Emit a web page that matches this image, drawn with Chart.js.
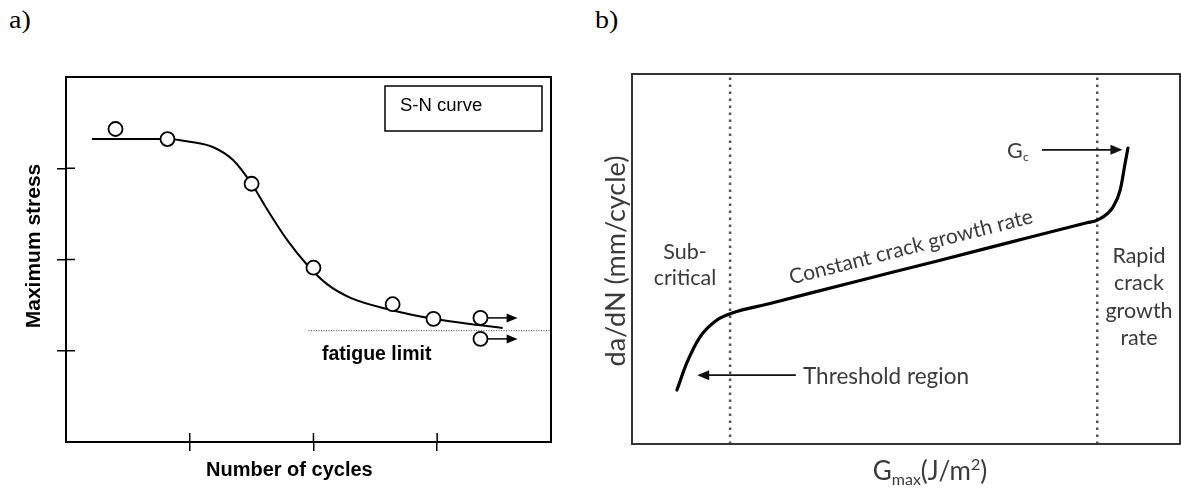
<!DOCTYPE html>
<html><head><meta charset="utf-8">
<script src="https://cdn.jsdelivr.net/npm/chart.js@4.4.1/dist/chart.umd.min.js"></script>
<style>
html,body{margin:0;padding:0;background:#fff;}
#wrap{position:relative;width:1181px;height:488px;overflow:hidden;background:#fff;}
.lbl{position:absolute;font-family:"Liberation Serif","Times New Roman",serif;font-size:25px;color:#000;line-height:25px;transform-origin:0 0;transform:scaleX(1.12);}
#ca{position:absolute;left:0;top:0;}
#cb{position:absolute;left:590px;top:0;}
</style></head><body>
<div id="wrap">
<div class="lbl" style="left:9px;top:7px">a)</div>
<div class="lbl" style="left:595px;top:7px">b)</div>
<canvas id="ca" width="590" height="488"></canvas>
<canvas id="cb" width="591" height="488"></canvas>
</div>
<script>
// ---------- Panel a : S-N curve ----------
const snCurveX = [0.21, 0.60, 0.82, 1.00, 1.19, 1.35, 1.50, 1.63, 1.79, 1.95, 2.11, 2.30, 2.62, 2.97, 3.35, 3.53];
const snCurveY = [3.32, 3.32, 3.32, 3.29, 3.23, 3.09, 2.83, 2.54, 2.21, 1.94, 1.73, 1.58, 1.45, 1.35, 1.28, 1.25];
const snPointX = [0.40, 0.82, 1.50, 2.00, 2.64, 2.97, 3.35, 3.35];
const snPointY = [3.43, 3.32, 2.83, 1.91, 1.51, 1.35, 1.36, 1.13];
const runoutY = [1.36, 1.13];
const runoutX = [3.41, 3.65];
const fatigueLimitX = [1.96, 3.92];
const fatigueLimitY = 1.22;
const tickValuesA = [1, 2, 3];

// ---------- Panel b : crack growth ----------
const crackX = [8.2, 10.0, 12.4, 15.5, 18.3, 25.0, 40.0, 55.0, 70.0, 83.0, 84.9, 87.8, 89.1, 90.0, 90.5];
const crackY = [14.6, 21.9, 28.9, 33.5, 35.4, 37.9, 43.6, 49.2, 54.9, 59.8, 60.5, 64.1, 68.7, 76.0, 80.0];
const regionBoundsX = [17.9, 84.9];
const thresholdArrowX = [29.9, 11.9];
const thresholdArrowY = 18.6;
const gcArrowX = [74.8, 89.5];
const gcArrowY = 79.5;

function arrowHead(ctx, x, y, dir, len, half) {
  ctx.beginPath();
  ctx.moveTo(x, y);
  ctx.lineTo(x - dir * len, y - half);
  ctx.lineTo(x - dir * len, y + half);
  ctx.closePath();
  ctx.fill();
}

const panelAPlugin = {
  id: 'panelA',
  afterDraw(chart) {
    const {ctx, chartArea: ca, scales: {x, y}} = chart;
    ctx.save();
    ctx.strokeStyle = '#000'; ctx.lineWidth = 2;
    ctx.strokeRect(ca.left, ca.top, ca.right - ca.left, ca.bottom - ca.top);
    ctx.lineWidth = 1.5;
    tickValuesA.forEach(v => {
      const px = x.getPixelForValue(v);
      ctx.beginPath(); ctx.moveTo(px, ca.bottom); ctx.lineTo(px, ca.bottom - 9); ctx.stroke();
      const py = y.getPixelForValue(v);
      ctx.beginPath(); ctx.moveTo(ca.left, py); ctx.lineTo(ca.left + 9, py); ctx.stroke();
    });
    ctx.fillStyle = '#000'; ctx.lineWidth = 1.5;
    runoutY.forEach(v => {
      const py = y.getPixelForValue(v);
      const x0 = x.getPixelForValue(runoutX[0]), x1 = x.getPixelForValue(runoutX[1]);
      ctx.beginPath(); ctx.moveTo(x0, py); ctx.lineTo(x1 - 6, py); ctx.stroke();
      arrowHead(ctx, x1, py, 1, 11, 4.5);
    });
    ctx.lineWidth = 1.5;
    ctx.strokeRect(385, 86, 157, 45);
    ctx.font = '18.5px "Liberation Sans", Arial, sans-serif';
    ctx.textBaseline = 'middle'; ctx.textAlign = 'left';
    ctx.fillText('S-N curve', 400, 106);
    ctx.font = 'bold 19.5px "Liberation Sans", Arial, sans-serif';
    ctx.textBaseline = 'alphabetic';
    ctx.fillText('fatigue limit', 322, 360);
    ctx.font = 'bold 20px "Liberation Sans", Arial, sans-serif';
    ctx.fillText('Number of cycles', 206, 476);
    ctx.save();
    ctx.translate(40, 246); ctx.rotate(-Math.PI / 2);
    ctx.textAlign = 'center';
    ctx.font = 'bold 21px "Liberation Sans", Arial, sans-serif';
    ctx.fillText('Maximum stress', 0, 0);
    ctx.restore();
    ctx.restore();
  }
};

new Chart(document.getElementById('ca'), {
  type: 'line',
  data: {
    datasets: [
      {
        label: 'S-N curve',
        data: snCurveX.map((v, i) => ({x: v, y: snCurveY[i]})),
        borderColor: '#000', borderWidth: 2, pointRadius: 0,
        cubicInterpolationMode: 'monotone', fill: false, order: 2
      },
      {
        label: 'fatigue limit',
        data: fatigueLimitX.map(v => ({x: v, y: fatigueLimitY})),
        borderColor: '#444', borderWidth: 1, borderDash: [1, 1.5],
        pointRadius: 0, fill: false, order: 3
      },
      {
        label: 'tests',
        data: snPointX.map((v, i) => ({x: v, y: snPointY[i]})),
        showLine: false, pointRadius: 7, pointStyle: 'circle',
        pointBackgroundColor: '#fff', pointBorderColor: '#000', pointBorderWidth: 1.8,
        order: 1
      }
    ]
  },
  options: {
    responsive: false, animation: false, events: [],
    layout: {padding: {left: 0, right: 39, top: 77, bottom: 0}},
    plugins: {legend: {display: false}, tooltip: {enabled: false}},
    scales: {
      x: {
        type: 'linear', min: 0, max: 3.92,
        afterBuildTicks: s => { s.ticks = tickValuesA.map(v => ({value: v})); },
        afterFit: s => { s.height = 46; },
        ticks: {display: false},
        grid: {drawOnChartArea: false, drawTicks: true, tickLength: 9, color: '#000', lineWidth: 1.5},
        border: {display: true, color: '#000', width: 2}
      },
      y: {
        type: 'linear', min: 0, max: 4,
        afterBuildTicks: s => { s.ticks = tickValuesA.map(v => ({value: v})); },
        afterFit: s => { s.width = 66; },
        ticks: {display: false},
        grid: {drawOnChartArea: false, drawTicks: true, tickLength: 9, color: '#000', lineWidth: 1.5},
        border: {display: true, color: '#000', width: 2}
      }
    }
  },
  plugins: [panelAPlugin]
});

// ---------- Panel b ----------
const TXT = '#3a3a3a';
const FONT_B = '"Lato", "Open Sans", sans-serif';
const panelBPlugin = {
  id: 'panelB',
  afterDraw(chart) {
    const {ctx, chartArea: ca, scales: {x, y}} = chart;
    ctx.save();
    ctx.strokeStyle = '#333'; ctx.lineWidth = 2;
    ctx.strokeRect(ca.left, ca.top, ca.right - ca.left, ca.bottom - ca.top);
    ctx.fillStyle = TXT;
    ctx.font = '21.5px ' + FONT_B;
    ctx.textAlign = 'center'; ctx.textBaseline = 'middle';
    ctx.fillText('Sub-', 95, 252);
    ctx.fillText('critical', 95, 278);
    ['Rapid', 'crack', 'growth', 'rate'].forEach((t, i) => ctx.fillText(t, 549, 256 + i * 27.3));
    ctx.textAlign = 'left';
    ctx.font = '22.5px ' + FONT_B;
    ctx.fillText('Threshold region', 213, 377);
    ctx.font = '21px ' + FONT_B;
    const x0 = x.getPixelForValue(crackX[4]), y0 = y.getPixelForValue(crackY[4]);
    const x1 = x.getPixelForValue(crackX[10]), y1 = y.getPixelForValue(crackY[10]);
    const ang = Math.atan2(y1 - y0, x1 - x0);
    ctx.save();
    ctx.translate(321, 247); ctx.rotate(ang);
    ctx.textAlign = 'center';
    ctx.fillText('Constant crack growth rate', 0, 0);
    ctx.restore();
    ctx.font = '21.5px ' + FONT_B;
    ctx.textAlign = 'left';
    ctx.fillText('G', 417, 151);
    ctx.font = '12px ' + FONT_B;
    ctx.fillText('c', 433, 157);
    ctx.fillStyle = '#111'; ctx.strokeStyle = '#111'; ctx.lineWidth = 1.8;
    const ty = y.getPixelForValue(thresholdArrowY);
    const ta = x.getPixelForValue(thresholdArrowX[0]), tb = x.getPixelForValue(thresholdArrowX[1]);
    ctx.beginPath(); ctx.moveTo(ta, ty); ctx.lineTo(tb + 6, ty); ctx.stroke();
    arrowHead(ctx, tb, ty, -1, 12, 5);
    const gy = y.getPixelForValue(gcArrowY);
    const ga = x.getPixelForValue(gcArrowX[0]), gb = x.getPixelForValue(gcArrowX[1]);
    ctx.beginPath(); ctx.moveTo(ga, gy); ctx.lineTo(gb - 6, gy); ctx.stroke();
    arrowHead(ctx, gb, gy, 1, 12, 5);
    ctx.fillStyle = TXT;
    ctx.textBaseline = 'alphabetic'; ctx.textAlign = 'left';
    const parts = [['G', 26, 0], ['max', 16, 5], ['(J/m', 26, 0], ['2', 16, -10], [')', 26, 0]];
    let total = 0;
    parts.forEach(([t, s]) => { ctx.font = s + 'px ' + FONT_B; total += ctx.measureText(t).width; });
    let cx = 340 - total / 2;
    parts.forEach(([t, s, dy]) => {
      ctx.font = s + 'px ' + FONT_B;
      ctx.fillText(t, cx, 480 + dy);
      cx += ctx.measureText(t).width;
    });
    ctx.save();
    ctx.translate(26, 261); ctx.rotate(-Math.PI / 2);
    ctx.textAlign = 'center'; ctx.textBaseline = 'middle';
    ctx.font = '27px ' + FONT_B;
    ctx.fillText('da/dN (mm/cycle)', 0, 0);
    ctx.restore();
    ctx.restore();
  }
};

new Chart(document.getElementById('cb'), {
  type: 'line',
  data: {
    datasets: [
      {
        label: 'da/dN',
        data: crackX.map((v, i) => ({x: v, y: crackY[i]})),
        borderColor: '#000', borderWidth: 3.2, pointRadius: 0,
        cubicInterpolationMode: 'monotone', fill: false, order: 1,
        borderCapStyle: 'round'
      },
      ...regionBoundsX.map(b => ({
        label: 'boundary',
        data: [{x: b, y: 0}, {x: b, y: 100}],
        borderColor: '#555', borderWidth: 2.5, borderDash: [2.5, 4.5],
        pointRadius: 0, fill: false, order: 2
      }))
    ]
  },
  options: {
    responsive: false, animation: false, events: [],
    layout: {padding: {left: 42, right: 1, top: 74, bottom: 44}},
    plugins: {legend: {display: false}, tooltip: {enabled: false}},
    scales: {
      x: {type: 'linear', min: 0, max: 100, display: false},
      y: {type: 'linear', min: 0, max: 100, display: false}
    }
  },
  plugins: [panelBPlugin]
});
</script>
</body></html>
